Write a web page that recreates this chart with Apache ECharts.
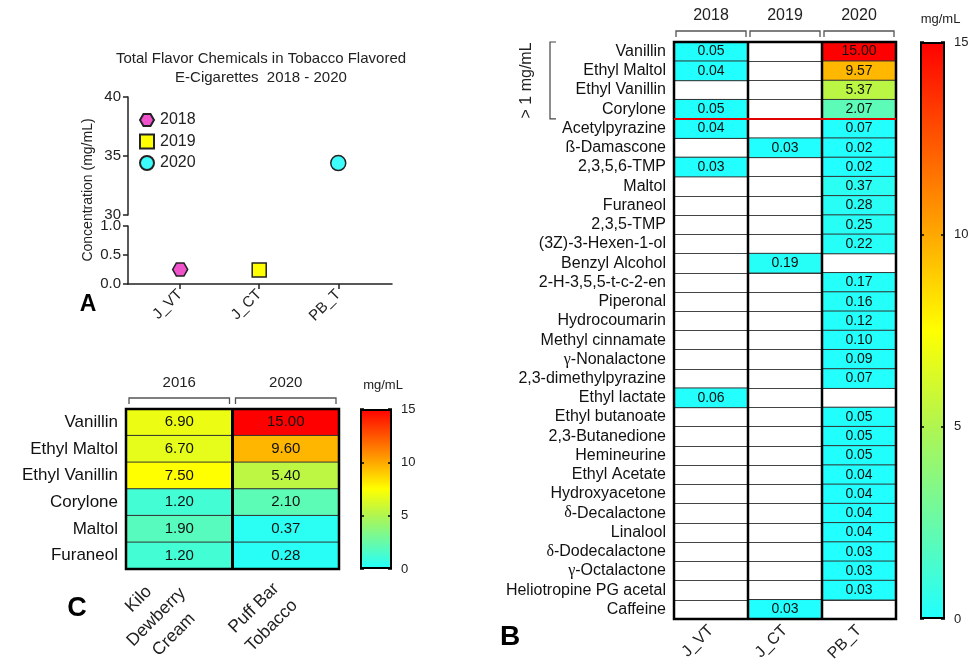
<!DOCTYPE html>
<html><head><meta charset="utf-8">
<script src="https://cdn.jsdelivr.net/npm/echarts@6/dist/echarts.min.js"></script>
<style>html,body{margin:0;padding:0;background:#fff}#c{width:971px;height:665px}</style>
</head><body><div id="c"></div>
<script>
const FONT = "'Liberation Sans', Arial, Helvetica, sans-serif";

// ---------- Panel A data ----------
const aTitle = 'Total Flavor Chemicals in Tobacco Flavored\nE-Cigarettes  2018 - 2020';
const aCategories = ['J_VT', 'J_CT', 'PB_T'];
const aYears = ['2018', '2019', '2020'];
const aTotal2018 = [0.25, null, null];
const aTotal2019 = [null, 0.24, null];
const aTotal2020 = [null, null, 34.4];
const aYearColors = ['#f052cc', '#ffff00', '#3ffcfc'];

// ---------- Panel C data ----------
const cRows = ['Vanillin', 'Ethyl Maltol', 'Ethyl Vanillin', 'Corylone', 'Maltol', 'Furaneol'];
const cYears = ['2016', '2020'];
const cProducts = ['Kilo\nDewberry\nCream', 'Puff Bar\nTobacco'];
const c2016 = [6.90, 6.70, 7.50, 1.20, 1.90, 1.20];
const c2020 = [15.00, 9.60, 5.40, 2.10, 0.37, 0.28];

// ---------- Panel B data ----------
const bRows = ['Vanillin', 'Ethyl Maltol', 'Ethyl Vanillin', 'Corylone', 'Acetylpyrazine',
  'ß-Damascone', '2,3,5,6-TMP', 'Maltol', 'Furaneol', '2,3,5-TMP', '(3Z)-3-Hexen-1-ol',
  'Benzyl Alcohol', '2-H-3,5,5-t-c-2-en', 'Piperonal', 'Hydrocoumarin', 'Methyl cinnamate',
  'γ-Nonalactone', '2,3-dimethylpyrazine', 'Ethyl lactate', 'Ethyl butanoate',
  '2,3-Butanedione', 'Hemineurine', 'Ethyl Acetate', 'Hydroxyacetone', 'δ-Decalactone',
  'Linalool', 'δ-Dodecalactone', 'γ-Octalactone', 'Heliotropine PG acetal', 'Caffeine'];
const bYears = ['2018', '2019', '2020'];
const bProducts = ['J_VT', 'J_CT', 'PB_T'];
const b2018 = [0.05, 0.04, null, 0.05, 0.04, null, 0.03, null, null, null, null, null, null, null, null,
  null, null, null, 0.06, null, null, null, null, null, null, null, null, null, null, null];
const b2019 = [null, null, null, null, null, 0.03, null, null, null, null, null, 0.19, null, null, null,
  null, null, null, null, null, null, null, null, null, null, null, null, null, null, 0.03];
const b2020 = [15.00, 9.57, 5.37, 2.07, 0.07, 0.02, 0.02, 0.37, 0.28, 0.25, 0.22, null, 0.17, 0.16, 0.12,
  0.10, 0.09, 0.07, null, 0.05, 0.05, 0.05, 0.04, 0.04, 0.04, 0.04, 0.03, 0.03, 0.03, null];

// ---------- Colour scale ----------
const scaleMin = 0, scaleMax = 15, scaleStep = 5;
const scaleColors = ['#20ffff', '#68faa8', '#b0f550', '#ffff00', '#ffa800', '#ff5400', '#ff0000'];

// ---------- Layout ----------
const GA_UP = {left: 128, top: 97, width: 264, height: 118};
const GA_LO = {left: 128, top: 226, width: 264, height: 58};
const GC = {left: 126, top: 409, width: 213, height: 160};
const GCB = {left: 360, top: 409, width: 32, height: 160};
const GB = {left: 674, top: 42, width: 222, height: 577};
const GBB = {left: 920, top: 42, width: 25, height: 577};

const hexPath = 'path://M0,43 L25,0 L75,0 L100,43 L75,86 L25,86 Z';
const aSymbols = [hexPath, 'rect', 'circle'];
const aSeriesValues = [aTotal2018, aTotal2019, aTotal2020];

const ink = '#222';
const gridBase = {outerBoundsMode: 'none', containLabel: false};

function valueAxisColorbar(gridIndex, right) {
  return {
    type: 'value', gridIndex, position: right ? 'right' : 'left',
    min: scaleMin, max: scaleMax, interval: scaleStep,
    axisLine: {show: false},
    axisTick: {show: true, inside: true, length: 4, lineStyle: {color: '#000', width: 1.5}},
    axisLabel: {show: right, margin: 9, fontSize: 13, color: ink, fontFamily: FONT},
    splitLine: {show: false}, z: 5
  };
}
function colorbarX(gridIndex) {
  return {type: 'category', gridIndex, data: ['scale'], show: false};
}

const greekRich = {
  g: {fontFamily: "'Liberation Serif', 'DejaVu Serif', serif", fontSize: 16, color: '#111'},
  t: {fontFamily: FONT, fontSize: 16, color: '#111'}
};
function greekFmt(v) {
  const m = v.match(/^([γδ])(.*)$/);
  return m ? '{g|' + m[1] + '}{t|' + m[2] + '}' : '{t|' + v + '}';
}

const xAxes = [
  {type: 'value', gridIndex: 0, min: 0.34, max: 3.68, show: false},
  {type: 'value', gridIndex: 1, min: 0.34, max: 3.68,
    axisLine: {show: true, onZero: false, lineStyle: {color: ink, width: 1.5}},
    axisTick: {show: true, customValues: [1, 2, 3], length: 5, lineStyle: {color: ink, width: 1.5}},
    axisLabel: {customValues: [1, 2, 3], formatter: v => aCategories[Math.round(v) - 1],
      rotate: 45, fontSize: 15, margin: 8, color: ink, fontFamily: FONT},
    splitLine: {show: false}},
  {type: 'category', gridIndex: 2, data: cProducts, axisLine: {show: false}, axisTick: {show: false},
    axisLabel: {show: false}, splitLine: {show: false}},
  {type: 'category', gridIndex: 2, data: cYears, position: 'top', axisLine: {show: false},
    axisTick: {show: false}, axisLabel: {fontSize: 15, margin: 19, color: ink, fontFamily: FONT},
    splitLine: {show: false}},
  colorbarX(3),
  {type: 'category', gridIndex: 4, data: bProducts, axisLine: {show: false}, axisTick: {show: false},
    axisLabel: {rotate: 45, fontSize: 16, margin: 9, color: ink, fontFamily: FONT},
    splitLine: {show: false}},
  {type: 'category', gridIndex: 4, data: bYears, position: 'top', axisLine: {show: false},
    axisTick: {show: false}, axisLabel: {fontSize: 16, margin: 18, color: ink, fontFamily: FONT},
    splitLine: {show: false}},
  colorbarX(5)
];

const yAxes = [
  {type: 'value', gridIndex: 0, min: 30, max: 40, interval: 5,
    axisLine: {show: true, lineStyle: {color: ink, width: 1.5}},
    axisTick: {show: true, length: 5, lineStyle: {color: ink, width: 1.5}},
    axisLabel: {fontSize: 15, margin: 7, color: ink, fontFamily: FONT},
    splitLine: {show: false}},
  {type: 'value', gridIndex: 1, min: 0, max: 1, interval: 0.5,
    axisLine: {show: true, lineStyle: {color: ink, width: 1.5}},
    axisTick: {show: true, length: 5, lineStyle: {color: ink, width: 1.5}},
    axisLabel: {fontSize: 15, margin: 7, color: ink, fontFamily: FONT, formatter: v => v.toFixed(1)},
    splitLine: {show: false}},
  {type: 'category', gridIndex: 2, data: cRows, inverse: true, axisLine: {show: false},
    axisTick: {show: false}, axisLabel: {fontSize: 17, margin: 8, color: '#111', fontFamily: FONT},
    splitLine: {show: true, lineStyle: {color: '#333', width: 1}}},
  valueAxisColorbar(3, true), valueAxisColorbar(3, false),
  {type: 'category', gridIndex: 4, data: bRows, inverse: true, axisLine: {show: false},
    axisTick: {show: false}, axisLabel: {margin: 8, formatter: greekFmt, rich: greekRich},
    splitLine: {show: true, lineStyle: {color: '#444', width: 1}}},
  valueAxisColorbar(5, true), valueAxisColorbar(5, false)
];

const series = [];
aYears.forEach((yr, k) => {
  const vals = aSeriesValues[k];
  const lower = [], upper = [];
  vals.forEach((v, i) => {
    if (v == null) return;
    (v <= 1 ? lower : upper).push([i + 1, v]);
  });
  const common = {
    type: 'scatter', name: yr, symbol: aSymbols[k],
    symbolSize: k === 0 ? [15, 13] : (k === 1 ? 14 : 15),
    itemStyle: {color: aYearColors[k], borderColor: '#222', borderWidth: 1.5, opacity: 1},
    emphasis: {disabled: true}, z: 5
  };
  series.push(Object.assign({}, common, {xAxisIndex: 1, yAxisIndex: 1, data: lower}));
  series.push(Object.assign({}, common, {xAxisIndex: 0, yAxisIndex: 0, data: upper}));
});

const cData = [];
[c2016, c2020].forEach((col, j) => col.forEach((v, i) => { if (v != null) cData.push([j, i, v]); }));
const bData = [];
[b2018, b2019, b2020].forEach((col, j) => col.forEach((v, i) => { if (v != null) bData.push([j, i, v]); }));

const idxC = series.length;
series.push({
  type: 'heatmap', xAxisIndex: 2, yAxisIndex: 2, data: cData,
  label: {show: true, formatter: p => p.value[2].toFixed(2), fontSize: 15, color: '#111', fontFamily: FONT},
  itemStyle: {borderColor: '#333', borderWidth: 1}, emphasis: {disabled: true}
});
const idxB = series.length;
series.push({
  type: 'heatmap', xAxisIndex: 5, yAxisIndex: 5, data: bData,
  label: {show: true, formatter: p => p.value[2].toFixed(2), fontSize: 14, color: '#111', fontFamily: FONT},
  itemStyle: {borderColor: '#333', borderWidth: 1}, emphasis: {disabled: true}
});

function gradient() {
  return new echarts.graphic.LinearGradient(0, 1, 0, 0,
    scaleColors.map((c, i) => ({offset: i / (scaleColors.length - 1), color: c})));
}
series.push({type: 'bar', xAxisIndex: 4, yAxisIndex: 3, data: [scaleMax], barWidth: '100%',
  itemStyle: {color: gradient(), borderColor: '#000', borderWidth: 2}, silent: true});
series.push({type: 'bar', xAxisIndex: 7, yAxisIndex: 6, data: [scaleMax], barWidth: '100%',
  itemStyle: {color: gradient(), borderColor: '#000', borderWidth: 2}, silent: true});

const option = {
  animation: false,
  backgroundColor: '#fff',
  textStyle: {fontFamily: FONT},
  title: {text: aTitle, left: 256, top: 44, textAlign: 'center',
    textStyle: {fontSize: 15, fontWeight: 'normal', color: ink, lineHeight: 19, fontFamily: FONT}},
  legend: {data: aYears, orient: 'vertical', left: 134, top: 107, itemWidth: 14, itemHeight: 14,
    itemGap: 5.5, textStyle: {fontSize: 16, color: ink, fontFamily: FONT, padding: [0, 0, 0, 1]},
    selectedMode: false},
  grid: [GA_UP, GA_LO, GC, GCB, GB, GBB].map(g => Object.assign({}, gridBase, g)),
  xAxis: xAxes,
  yAxis: yAxes,
  visualMap: {show: false, type: 'continuous', min: scaleMin, max: scaleMax, dimension: 2,
    seriesIndex: [idxC, idxB], inRange: {color: scaleColors}},
  series
};

const chart = echarts.init(document.getElementById('c'), null, {renderer: 'canvas'});
chart.setOption(option);

function px(axis, idx, v) { const f = {}; f[axis + 'Index'] = idx; return chart.convertToPixel(f, v); }

const G = [];
function line(x1, y1, x2, y2, stroke, w) {
  G.push({type: 'line', z: 100, silent: true, shape: {x1, y1, x2, y2}, style: {stroke, lineWidth: w}});
}
function poly(points, stroke, w) {
  G.push({type: 'polyline', z: 100, silent: true, shape: {points}, style: {stroke, lineWidth: w, fill: null}});
}
function txt(x, y, text, size, opts) {
  G.push(Object.assign({type: 'text', z: 100, silent: true, x, y,
    style: Object.assign({text, fontSize: size, fontFamily: FONT, fill: ink, textAlign: 'center',
      textVerticalAlign: 'middle'}, (opts && opts.style) || {})}, (opts && opts.el) || {}));
}

function heatFrame(xi, yi, nCols, nRows, sepW, frameW, bracketInset) {
  const xs = [], ys = [];
  for (let i = 0; i < nCols; i++) xs.push(px('xAxis', xi, i));
  for (let i = 0; i < nRows; i++) ys.push(px('yAxis', yi, i));
  const bw = xs.length > 1 ? xs[1] - xs[0] : 0;
  const bh = ys[1] - ys[0];
  const L = xs[0] - bw / 2, R = xs[nCols - 1] + bw / 2, T = ys[0] - bh / 2, B = ys[nRows - 1] + bh / 2;
  for (let i = 1; i < nCols; i++) line(xs[i] - bw / 2, T, xs[i] - bw / 2, B, '#000', sepW);
  G.push({type: 'rect', z: 100, silent: true, shape: {x: L, y: T, width: R - L, height: B - T},
    style: {fill: null, stroke: '#000', lineWidth: frameW}});
  xs.forEach(x => {
    const a = x - bw / 2 + bracketInset, b = x + bw / 2 - bracketInset;
    poly([[a, T - 5], [a, T - 11], [b, T - 11], [b, T - 5]], '#555', 1.3);
  });
  return {xs, ys, bw, bh, L, R, T, B};
}

// Panel B frame / brackets / red divider
const fb = heatFrame(5, 5, bProducts.length, bRows.length, 2.5, 2.5, 2);
const yDiv = (fb.ys[3] + fb.ys[4]) / 2;
line(fb.L, yDiv, fb.R, yDiv, '#e00000', 2);
const bx = fb.L - 124;
poly([[bx + 6, fb.T], [bx, fb.T], [bx, yDiv], [bx + 6, yDiv]], '#444', 1.2);
txt(fb.L - 147, (fb.T + yDiv) / 2, '> 1 mg/mL', 16, {el: {rotation: Math.PI / 2}});

// Panel C frame / brackets / product labels
const fc = heatFrame(2, 2, cYears.length, cRows.length, 3, 2.5, 3);
fc.xs.forEach((x, i) => {
  txt(x - 23, fc.B + 48, cProducts[i], 17.5, {el: {rotation: Math.PI / 4}, style: {lineHeight: 25}});
});

// Colorbar units
const cbC = px('xAxis', 4, 0), cbB = px('xAxis', 7, 0);
txt(cbC + 7, px('yAxis', 3, scaleMax) - 24, 'mg/mL', 13);
txt(cbB + 8, px('yAxis', 6, scaleMax) - 23, 'mg/mL', 13);

// Panel A axis title
txt(88, 190, 'Concentration (mg/mL)', 14, {el: {rotation: Math.PI / 2}});

// Panel letters
txt(88, 305, 'A', 23, {style: {fontWeight: 'bold', fill: '#000'}});
txt(510, 637, 'B', 28, {style: {fontWeight: 'bold', fill: '#000'}});
txt(77, 609, 'C', 27, {style: {fontWeight: 'bold', fill: '#000'}});

chart.setOption({graphic: G});
</script>
</body></html>
